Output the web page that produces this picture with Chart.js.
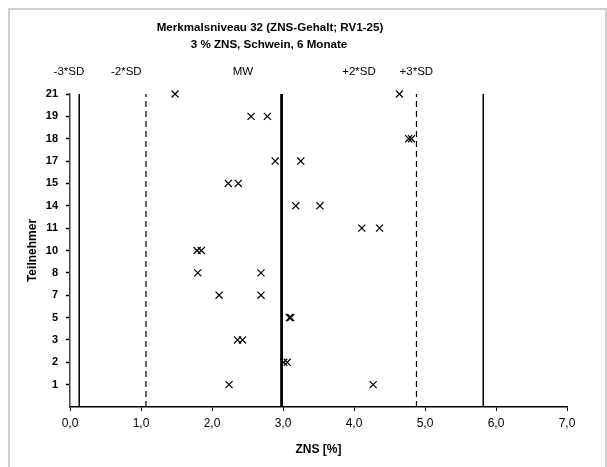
<!DOCTYPE html>
<html>
<head>
<meta charset="utf-8">
<script src="https://cdn.jsdelivr.net/npm/chart.js@4"></script>
<style>
  body { margin: 0; background: #fff; }
</style>
</head>
<body>
<canvas id="canvas" width="607" height="467"></canvas>
<script>
// Teilnehmer (Labornummern), von unten nach oben
const participants = ['1', '2', '3', '5', '7', '8', '10', '11', '14', '15', '17', '18', '19', '21'];
// zwei Messwerte je Teilnehmer, ZNS [%]
const valuesA = [2.24, 3.01, 2.36, 3.09, 2.10, 1.80, 1.79, 4.11, 3.18, 2.23, 2.89, 4.77, 2.55, 1.48];
const valuesB = [4.27, 3.06, 2.43, 3.11, 2.69, 2.69, 1.85, 4.36, 3.52, 2.37, 3.25, 4.81, 2.78, 4.64];
// Mittelwert und Grenzen
const limitLabels = ['-3*SD', '-2*SD', 'MW', '+2*SD', '+3*SD'];
const limitValues = [0.13, 1.07, 2.98, 4.88, 5.82];
const xTicks = [0, 1, 2, 3, 4, 5, 6, 7];

const titleLines = ['Merkmalsniveau 32 (ZNS-Gehalt; RV1-25)', '3 % ZNS, Schwein, 6 Monate'];

const points = [];
participants.forEach((p, i) => {
  points.push({ x: valuesA[i], y: i + 1 });
  points.push({ x: valuesB[i], y: i + 1 });
});

const limitStyles = [
  { w: 1.5, dash: [] },
  { w: 1.2, dash: [6, 4] },
  { w: 2.8, dash: [] },
  { w: 1.2, dash: [6, 4] },
  { w: 1.5, dash: [] }
];

const datasets = limitValues.map((v, i) => ({
  type: 'line',
  label: limitLabels[i],
  data: [{ x: v, y: 0 }, { x: v, y: participants.length }],
  borderColor: '#000',
  borderWidth: limitStyles[i].w,
  borderDash: limitStyles[i].dash,
  pointRadius: 0,
  fill: false
}));

datasets.push({
  type: 'scatter',
  label: 'Werte',
  data: points,
  clip: false,
  pointStyle: 'crossRot',
  pointRadius: 5,
  pointBorderWidth: 1.2,
  borderColor: '#000',
  backgroundColor: '#000'
});

const decorations = {
  id: 'decorations',
  afterDraw(chart) {
    const c = chart.ctx;
    const xs = chart.scales.x;
    c.save();
    // Rahmen
    c.strokeStyle = '#cfcfcf';
    c.lineWidth = 2;
    c.strokeRect(9, 9, 597, 470);
    // Titel
    c.fillStyle = '#000';
    c.textAlign = 'center';
    c.textBaseline = 'middle';
    c.font = 'bold 11.6px "Liberation Sans", Arial, sans-serif';
    c.fillText(titleLines[0], 270, 28);
    c.fillText(titleLines[1], 269, 45);
    // Beschriftung der Grenzlinien
    c.font = '11.5px "Liberation Sans", Arial, sans-serif';
    limitValues.forEach((v, i) => {
      const px = xs.left - 9 + (xs.getPixelForValue(v) - xs.left) * 0.86;
      c.fillText(limitLabels[i], px, 72);
    });
    c.restore();
  }
};

new Chart(document.getElementById('canvas'), {
  type: 'scatter',
  data: { datasets: datasets },
  plugins: [decorations],
  options: {
    responsive: false,
    animation: false,
    layout: { padding: { top: 94, left: 24, right: 40, bottom: 10 } },
    plugins: {
      legend: { display: false },
      tooltip: { enabled: false },
      title: { display: false }
    },
    scales: {
      x: {
        type: 'linear',
        min: 0,
        max: 7,
        afterBuildTicks: s => { s.ticks = xTicks.map(v => ({ value: v })); },
        afterFit: s => { s.height = 50; },
        border: { color: '#000', width: 1.5 },
        grid: { drawOnChartArea: false, drawTicks: true, tickLength: 4, tickColor: '#000' },
        ticks: {
          color: '#000',
          padding: 5,
          font: { family: '"Liberation Sans", Arial, sans-serif', size: 12 },
          callback: v => v.toFixed(1).replace('.', ',')
        },
        title: {
          display: true,
          text: 'ZNS [%]',
          color: '#000',
          padding: 0,
          font: { family: '"Liberation Sans", Arial, sans-serif', size: 12, weight: 'bold' }
        }
      },
      y: {
        type: 'linear',
        min: 0,
        max: participants.length,
        afterBuildTicks: s => { s.ticks = participants.map((p, i) => ({ value: i + 1 })); },
        afterFit: s => { s.width = 46; },
        border: { color: '#444', width: 1.5 },
        grid: { drawOnChartArea: false, drawTicks: true, tickLength: 4, tickColor: '#000', tickWidth: 1.5 },
        ticks: {
          color: '#000',
          padding: 8,
          font: { family: '"Liberation Sans", Arial, sans-serif', size: 11, weight: 'bold' },
          callback: v => participants[v - 1] || ''
        },
        title: {
          display: true,
          text: 'Teilnehmer',
          color: '#000',
          padding: { top: 1, bottom: 0 },
          font: { family: '"Liberation Sans", Arial, sans-serif', size: 12, weight: 'bold' }
        }
      }
    }
  }
});
</script>
</body>
</html>
